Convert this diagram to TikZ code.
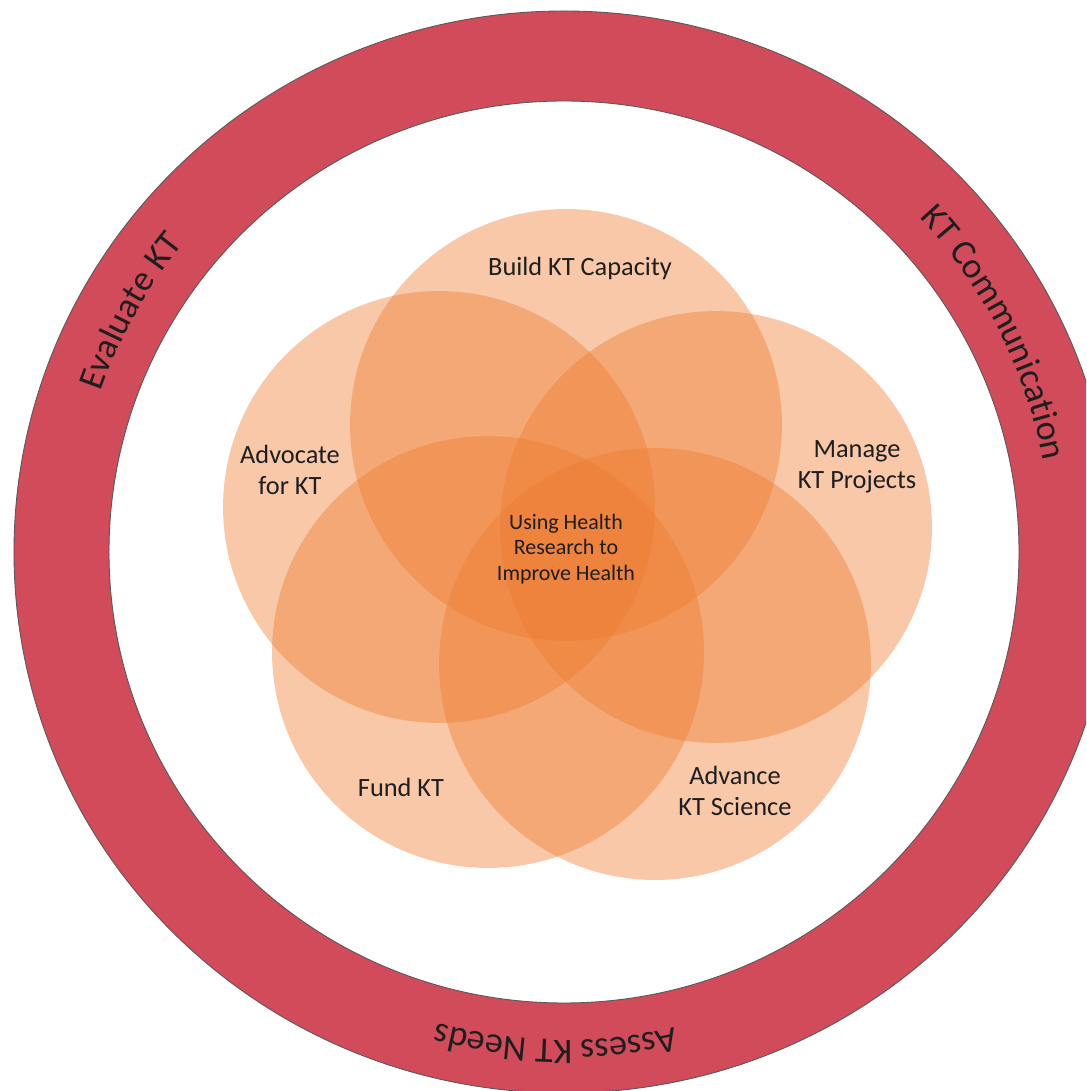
\documentclass[tikz,border=0pt]{standalone}
\usepackage{fontspec}
\setmainfont{Carlito}
\usepackage{xcolor}
\definecolor{KT-red}{RGB}{209, 75, 90}
\definecolor{KT-orange}{RGB}{237, 122, 46}
\definecolor{KT-text}{RGB}{30, 30, 30}
\usepackage{tikz}
\usetikzlibrary{decorations.text}

\begin{document}
\begin{tikzpicture} [
    x=0.02cm, y=0.02cm,
    venn/.style = {circle,inner sep=0,minimum size=8.64cm,fill=KT-orange,fill opacity=0.41},
    lbl/.style = {align=center,text=KT-text,font=\fontsize{15}{17.6}\selectfont},
    hub/.style = {align=center,text=KT-text,font=\fontsize{12.5}{14.7}\selectfont},
    donut/.style = {fill=KT-red,draw=black!65,line width=0.5pt,even odd rule},
    ringtext/.style = {decorate,decoration={text along path,text align=center,
        text color=KT-text,text={|\fontsize{20.5}{24}\selectfont|#1}}}
    ]

    \useasboundingbox (-564,-539) rectangle (522,552);
    \clip (-564,-539) rectangle (522,552);

    % outer ring
    \path [donut] (0,0) ellipse [x radius=550, y radius=541]
                  (0,0) ellipse [x radius=455, y radius=451];

    \path [ringtext={Evaluate KT}] (176:490) arc (176:126:490);
    \path [ringtext={KT Communication}] (58:488) arc (58:-4:488);
    \path [ringtext={Assess KT Needs}] (298:488) arc (298:240:488);

    % five overlapping circles
    \foreach \n/\x/\y in {build/2/127, manage/152/25, advance/91/-112, fund/-76/-100, advocate/-125/45}
        {
            \node (\n) [venn] at (\x,\y) {};
        }

    \node (t-build) [lbl] at (16,284) {Build KT Capacity};
    \node (t-advocate) [lbl] at (-274,82) {Advocate\\for KT};
    \node (t-manage) [lbl] at (293,85) {Manage\\KT Projects};
    \node (t-fund) [lbl] at (-163,-235) {Fund KT};
    \node (t-advance) [lbl] at (171,-239) {Advance\\KT Science};

    \node (centre) [hub] at (2,3) {Using Health\\Research to\\Improve Health};

\end{tikzpicture}
\end{document}
